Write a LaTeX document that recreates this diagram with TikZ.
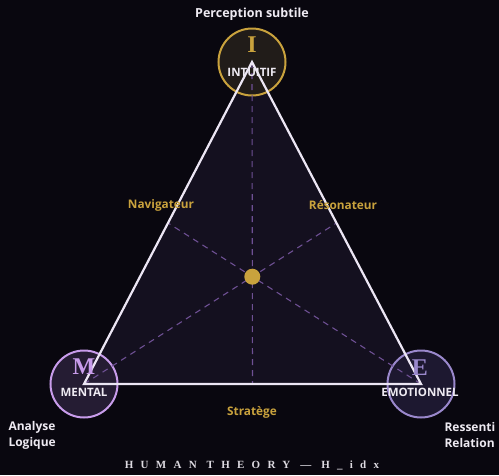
\documentclass[tikz,border=0pt]{standalone}
\usepackage{fontspec}
\setsansfont{Open Sans}
\newfontfamily\letterfont{Liberation Serif}
\newfontfamily\titlefont[LetterSpace=66]{Liberation Serif}
\usepackage{tikz}
\usetikzlibrary{calc}
\definecolor{bgdark}{HTML}{09070F}
\definecolor{trifill}{HTML}{14101F}
\definecolor{edgewhite}{HTML}{ECE6F4}
\definecolor{dashpurple}{HTML}{6E5094}
\definecolor{gold}{HTML}{C9A23D}
\definecolor{ifill}{HTML}{211C19}
\definecolor{mstroke}{HTML}{C89CEB}
\definecolor{mfill}{HTML}{251C33}
\definecolor{estroke}{HTML}{9A88CC}
\definecolor{efill}{HTML}{1D1830}
\definecolor{labelwhite}{HTML}{EEEAF2}

\begin{document}
\begin{tikzpicture}[x=1pt,y=-1pt,
    pole/.style={circle,minimum size=67pt,line width=2pt,inner sep=0pt},
    letter/.style={font=\letterfont\bfseries\fontsize{24}{24}\selectfont},
    tag/.style={font=\sffamily\bfseries\fontsize{11.5}{13}\selectfont,text=labelwhite},
    role/.style={font=\sffamily\bfseries\fontsize{11.8}{13}\selectfont,text=gold},
    median/.style={dashed,dash pattern=on 6pt off 5pt,line width=1.1pt,color=dashpurple}]
    \fill[bgdark] (0,0) rectangle (499,475);
    \useasboundingbox (0,0) rectangle (499,475);
    \coordinate (i) at (252,62);
    \coordinate (m) at (84,384);
    \coordinate (e) at (421,384);
    \coordinate (g) at (252.3,276.7);
    \fill[trifill] (i) -- (m) -- (e) -- cycle;
    \node[pole,draw=gold,fill=ifill] (ci) at (i) {};
    \node[pole,draw=mstroke,fill=mfill] (cm) at (m) {};
    \node[pole,draw=estroke,fill=efill] (ce) at (e) {};
    \coordinate (ime) at ($(i)!0.5!(e)$);
    \coordinate (imm) at ($(i)!0.5!(m)$);
    \coordinate (mme) at ($(m)!0.5!(e)$);
    \draw[median] (i) -- (mme);
    \draw[median] (m) -- (ime);
    \draw[median] (e) -- (imm);
    \draw[edgewhite,line width=2.2pt,line join=miter] (i) -- (m) -- (e) -- cycle;
    \fill[gold] (g) circle (8pt);
    \node[letter,text=gold] (li) at (252,45) {I};
    \node[letter,text=mstroke] (lm) at (84,367) {M};
    \node[letter,text=estroke] (le) at (420,368) {E};
    \node[tag] (ti) at (252,72.5) {INTUITIF};
    \node[tag] (tm) at (84,392.5) {MENTAL};
    \node[tag] (te) at (420,392.5) {EMOTIONNEL};
    \node[tag,font=\sffamily\bfseries\fontsize{12.5}{14}\selectfont] (top) at (252,14) {Perception subtile};
    \node[tag,align=left,anchor=west,font=\sffamily\bfseries\fontsize{12}{16}\selectfont] (ana) at (5,435) {Analyse\\Logique};
    \node[tag,align=left,anchor=west,font=\sffamily\bfseries\fontsize{12}{16}\selectfont] (res) at (441,435) {Ressenti\\Relation};
    \node[role] (nav) at (161,205) {Navigateur};
    \node[role] (reso) at (343,205) {Résonateur};
    \node[role] (strat) at (252,412) {Stratège};
    \node[text=labelwhite!85!gray,font=\titlefont\bfseries\fontsize{11}{12}\selectfont] (title) at (252,465) {HUMAN THEORY — H\_idx};
\end{tikzpicture}
\end{document}
